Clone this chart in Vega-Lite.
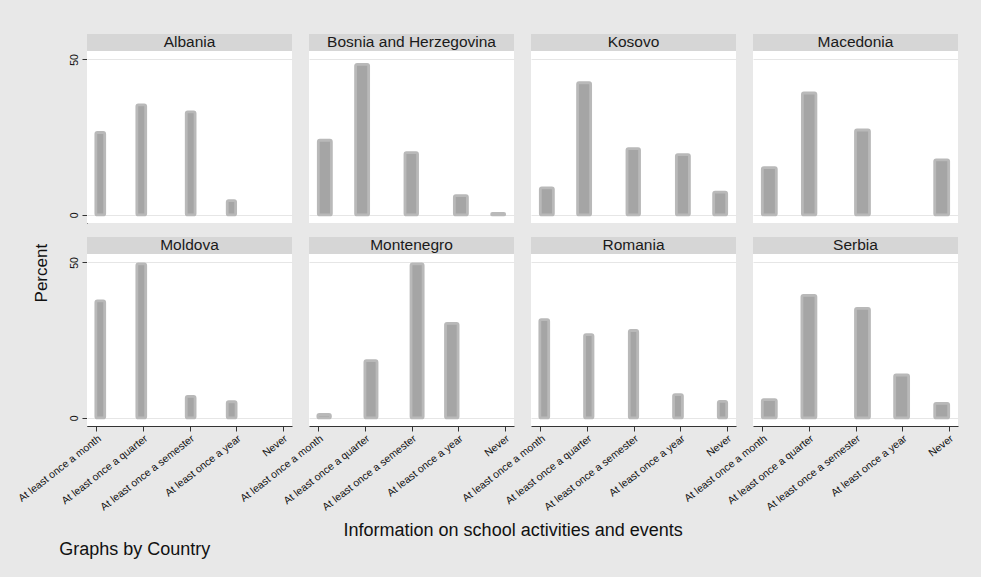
{
  "$schema": "https://vega.github.io/schema/vega-lite/v6.json",
  "background": "#e8e8e8",
  "padding": {"left": 16, "top": 33, "right": 23, "bottom": 20},
  "data": {"values": [
    {"Country": "Albania", "bin_start": 0.99, "bin_end": 1.18, "Percent": 26.5},
    {"Country": "Albania", "bin_start": 1.87, "bin_end": 2.06, "Percent": 35.4},
    {"Country": "Albania", "bin_start": 2.93, "bin_end": 3.12, "Percent": 33.1},
    {"Country": "Albania", "bin_start": 3.81, "bin_end": 3.99, "Percent": 4.6},
    {"Country": "Bosnia and Herzegovina", "bin_start": 1.0, "bin_end": 1.28, "Percent": 24.0},
    {"Country": "Bosnia and Herzegovina", "bin_start": 1.8, "bin_end": 2.08, "Percent": 48.4},
    {"Country": "Bosnia and Herzegovina", "bin_start": 2.86, "bin_end": 3.13, "Percent": 20.0},
    {"Country": "Bosnia and Herzegovina", "bin_start": 3.92, "bin_end": 4.2, "Percent": 6.2},
    {"Country": "Bosnia and Herzegovina", "bin_start": 4.72, "bin_end": 5.0, "Percent": 0.5},
    {"Country": "Kosovo", "bin_start": 1.0, "bin_end": 1.28, "Percent": 8.7},
    {"Country": "Kosovo", "bin_start": 1.8, "bin_end": 2.08, "Percent": 42.5},
    {"Country": "Kosovo", "bin_start": 2.86, "bin_end": 3.13, "Percent": 21.3},
    {"Country": "Kosovo", "bin_start": 3.92, "bin_end": 4.2, "Percent": 19.4},
    {"Country": "Kosovo", "bin_start": 4.72, "bin_end": 5.0, "Percent": 7.3},
    {"Country": "Macedonia", "bin_start": 1.0, "bin_end": 1.3, "Percent": 15.2},
    {"Country": "Macedonia", "bin_start": 1.86, "bin_end": 2.15, "Percent": 39.2},
    {"Country": "Macedonia", "bin_start": 3.0, "bin_end": 3.3, "Percent": 27.3},
    {"Country": "Macedonia", "bin_start": 4.7, "bin_end": 5.0, "Percent": 17.7},
    {"Country": "Moldova", "bin_start": 0.99, "bin_end": 1.18, "Percent": 37.6},
    {"Country": "Moldova", "bin_start": 1.87, "bin_end": 2.06, "Percent": 49.5},
    {"Country": "Moldova", "bin_start": 2.93, "bin_end": 3.12, "Percent": 6.9},
    {"Country": "Moldova", "bin_start": 3.81, "bin_end": 4.0, "Percent": 5.2},
    {"Country": "Montenegro", "bin_start": 0.99, "bin_end": 1.26, "Percent": 1.1},
    {"Country": "Montenegro", "bin_start": 2.0, "bin_end": 2.26, "Percent": 18.4},
    {"Country": "Montenegro", "bin_start": 2.99, "bin_end": 3.25, "Percent": 49.5},
    {"Country": "Montenegro", "bin_start": 3.73, "bin_end": 4.0, "Percent": 30.4},
    {"Country": "Romania", "bin_start": 0.99, "bin_end": 1.18, "Percent": 31.6},
    {"Country": "Romania", "bin_start": 1.95, "bin_end": 2.13, "Percent": 26.8},
    {"Country": "Romania", "bin_start": 2.91, "bin_end": 3.09, "Percent": 28.1},
    {"Country": "Romania", "bin_start": 3.86, "bin_end": 4.05, "Percent": 7.5},
    {"Country": "Romania", "bin_start": 4.82, "bin_end": 5.0, "Percent": 5.3},
    {"Country": "Serbia", "bin_start": 1.0, "bin_end": 1.3, "Percent": 5.9},
    {"Country": "Serbia", "bin_start": 1.85, "bin_end": 2.15, "Percent": 39.4},
    {"Country": "Serbia", "bin_start": 3.0, "bin_end": 3.3, "Percent": 35.2},
    {"Country": "Serbia", "bin_start": 3.84, "bin_end": 4.14, "Percent": 13.8},
    {"Country": "Serbia", "bin_start": 4.7, "bin_end": 5.0, "Percent": 4.7}
  ]},
  "title": {"text": "Graphs by Country", "orient": "bottom", "anchor": "start", "fontSize": 18, "fontWeight": "normal", "font": "Liberation Sans", "color": "#111", "offset": 1, "dx": 43},
  "vconcat": [
    {
      "title": {"text": "Information on school activities and events", "orient": "bottom", "anchor": "middle", "fontSize": 18, "fontWeight": "normal", "font": "Liberation Sans", "color": "#111", "offset": 10, "dx": 26},
      "vconcat": [
        {
          "title": {"text": "Percent", "orient": "left", "anchor": "middle", "fontSize": 17, "fontWeight": "normal", "font": "Liberation Sans", "color": "#111", "offset": -35},
          "facet": {"field": "Country", "type": "nominal", "header": {"title": null, "labels": false, "labelExpr": "''", "labelFontSize": 0, "labelPadding": 0, "titlePadding": 0}},
          "columns": 4,
          "spacing": {"column": 17, "row": 13},
          "spec": {
            "width": 205,
            "height": 189,
            "layer": [
              {
                "mark": {"type": "rect", "fill": "#d6d6d6"},
                "encoding": {
                  "y": {"datum": 52.7, "type": "quantitative"},
                  "y2": {"datum": 58.2}
                }
              },
              {
                "transform": [{"aggregate": [], "groupby": ["Country"]}],
                "mark": {"type": "text", "fontSize": 15.5, "font": "Liberation Sans", "color": "#1a1a1a", "baseline": "middle"},
                "encoding": {
                  "x": {"datum": 3, "type": "quantitative"},
                  "y": {"datum": 55.5, "type": "quantitative"},
                  "text": {"field": "Country"}
                }
              },
              {
                "mark": {"type": "rect", "fill": "#a5a5a5", "stroke": "#b9b9b9", "strokeWidth": 2.8, "cornerRadius": 1.5},
                "encoding": {
                  "x": {"field": "bin_start", "type": "quantitative",
                    "scale": {"domain": [0.8, 5.2], "nice": false, "zero": false},
                    "axis": {"values": [1, 2, 3, 4, 5], "grid": false, "title": null,
                      "labelExpr": "['', 'At least once a month', 'At least once a quarter', 'At least once a semester', 'At least once a year', 'Never'][datum.value]",
                      "labelAngle": -38, "labelFontSize": 10.5, "labelFont": "Liberation Sans", "labelColor": "#111",
                      "labelOverlap": false, "labelBound": false, "labelFlush": false,
                      "tickSize": 5, "tickColor": "#333", "domainColor": "#333", "labelPadding": 2}},
                  "x2": {"field": "bin_end"},
                  "y": {"field": "Percent", "type": "quantitative",
                    "scale": {"domain": [-2.6, 52.7], "range": [189, 17], "nice": false, "zero": false},
                    "axis": {"values": [0, 50], "grid": true, "gridColor": "#e6e6e6", "title": null,
                      "labelAngle": 270, "labelFontSize": 10.5, "labelFont": "Liberation Sans", "labelColor": "#111",
                      "tickSize": 5, "tickColor": "#333", "domainColor": "#333", "labelPadding": 3}},
                  "y2": {"datum": 0}
                }
              }
            ]
          }
        }
      ]
    }
  ],
  "config": {"view": {"stroke": null, "fill": "white"}, "header": {"labels": false, "title": null, "labelFontSize": 0, "labelPadding": 0}}
}
